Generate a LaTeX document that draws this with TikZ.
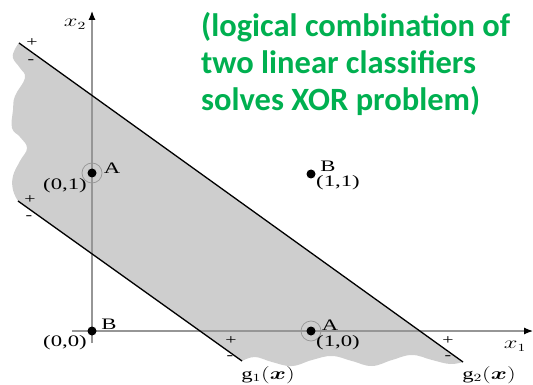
\documentclass[tikz,border=0pt]{standalone}
\usepackage{amsmath}
\usepackage{bm}
\usepackage{fontspec}
\setmainfont{Liberation Serif}
\newfontfamily\greenfont{Carlito}
\usetikzlibrary{arrows.meta}
\definecolor{xorgreen}{RGB}{0,176,80}
\definecolor{regiongray}{RGB}{206,206,206}
\definecolor{axisgray}{RGB}{150,150,150}
\newcommand{\widetxt}[1]{\scalebox{1.42}[1]{#1}}
\begin{document}
\begin{tikzpicture}[x=1pt,y=-1pt,
  axis/.style={draw=axisgray,line width=1.2pt,-{Latex[length=9pt,width=7pt,black]}},
  boundary/.style={draw=black,line width=1.3pt},
  dotnode/.style={circle,fill=black,inner sep=0pt,minimum size=9pt},
  ring/.style={circle,draw=axisgray,line width=0.7pt,inner sep=0pt,minimum size=20pt},
  lbl/.style={font=\fontsize{16}{18}\selectfont,inner sep=0pt},
  sign/.style={font=\fontsize{14}{15}\selectfont,inner sep=0pt},
  note/.style={font=\greenfont\bfseries\fontsize{32.5}{37}\selectfont,text=xorgreen,align=left,inner sep=0pt}
]
\useasboundingbox (0,0) rectangle (533,385);
% boundary end points
\coordinate (g2s) at (19,43);
\coordinate (g2e) at (463,362);
\coordinate (g1s) at (18,201);
\coordinate (g1e) at (242,361);
% shaded region
\fill[regiongray] (g2s) -- (g2e)
  -- plot[smooth,tension=0.7] coordinates {(463,362) (450,364) (432,360) (412,355) (392,360) (372,366) (352,361) (332,356) (312,360) (292,366) (272,362) (255,357) (242,361)}
  -- (g1s)
  -- plot[smooth,tension=0.7] coordinates {(18,201) (13,190) (13,176) (20,161) (27,148) (20,137) (12,128) (13,110) (15,96) (25,78) (20,68) (13,58) (15,49) (19,43)}
  -- cycle;
% axes
\coordinate (yb) at (92,343);
\coordinate (yt) at (92,11);
\coordinate (xl) at (72,331);
\coordinate (xr) at (533,331);
\draw[axis] (yb) -- (yt);
\draw[axis] (xl) -- (xr);
\node[lbl] (x2lab) at (75,24) {\widetxt{$x_2$}};
\node[lbl] (x1lab) at (515,346) {\widetxt{$x_1$}};
% boundaries
\draw[boundary] (g2s) -- (g2e);
\draw[boundary] (g1s) -- (g1e);
% signs
\node[sign] (p1) at (32,43) {\widetxt{+}};
\node[sign] (m1) at (31,62) {\widetxt{-}};
\node[sign] (p2) at (30,200) {\widetxt{+}};
\node[sign] (m2) at (29,218) {\widetxt{-}};
\node[sign] (p3) at (231,341) {\widetxt{+}};
\node[sign] (m3) at (230,358) {\widetxt{-}};
\node[sign] (p4) at (448,341) {\widetxt{+}};
\node[sign] (m4) at (448,358) {\widetxt{-}};
\node[lbl] (g1lab) at (268,375) {\widetxt{$\mathrm{g}_1(\bm{x})$}};
\node[lbl] (g2lab) at (489,375) {\widetxt{$\mathrm{g}_2(\bm{x})$}};
% points
\node[ring] (r01) at (92,173) {};
\node[dotnode] (p01) at (92,173) {};
\node[lbl] (a01) at (112,168) {\widetxt{A}};
\node[lbl] (c01) at (65,186) {\widetxt{(0,1)}};
\node[dotnode] (p00) at (92,331) {};
\node[lbl] (b00) at (109,324) {\widetxt{B}};
\node[lbl] (c00) at (65,343) {\widetxt{(0,0)}};
\node[ring] (r10) at (311,331) {};
\node[dotnode] (p10) at (311,331) {};
\node[lbl] (a10) at (330,325) {\widetxt{A}};
\node[lbl] (c10) at (338,343) {\widetxt{(1,0)}};
\node[dotnode] (p11) at (311,174) {};
\node[lbl] (b11) at (328,166) {\widetxt{B}};
\node[lbl] (c11) at (338,183) {\widetxt{(1,1)}};
% note
\node[note,anchor=north west] (note) at (201,12) {(logical combination of\\two linear classifiers\\solves XOR problem)};
\end{tikzpicture}
\end{document}
